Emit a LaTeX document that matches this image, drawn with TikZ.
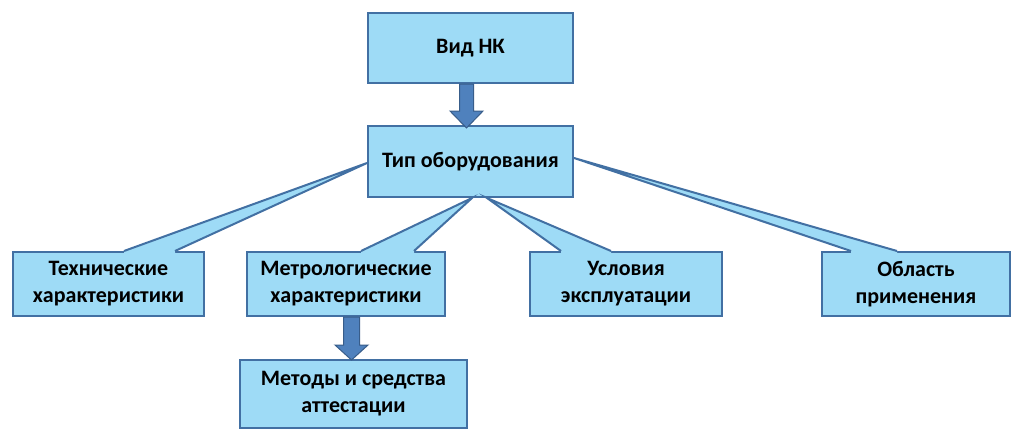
\documentclass[tikz,border=0pt]{standalone}
\usepackage{fontspec}
\setmainfont{Carlito}
\usetikzlibrary{calc}
\definecolor{boxfill}{RGB}{158,219,246}
\definecolor{boxline}{RGB}{66,112,163}
\definecolor{arrfill}{RGB}{79,129,189}
\definecolor{arrline}{RGB}{56,93,138}
\tikzset{
  box/.style={draw=boxline, fill=boxfill, line width=2pt, align=center,
    font=\fontsize{22}{27}\selectfont\bfseries, inner sep=0pt},
  wedgefill/.style={fill=boxfill},
  wedgeline/.style={draw=boxline, line width=2pt, line join=miter},
  blockarrow/.style={fill=arrfill, draw=arrline, line width=1pt, line join=miter}
}
\begin{document}
\begin{tikzpicture}[x=1pt,y=-1pt]
\useasboundingbox (0,0) rectangle (1024,442);
\fill[white] (0,0) rectangle (1024,442);

\node[box, minimum width=205pt, minimum height=70pt] (vid) at (470.5,48) {Вид НК};
\node[box, minimum width=205pt, minimum height=71pt] (tip) at (470.5,161.5) {Тип оборудования};
\node[box, minimum width=191pt, minimum height=64pt] (tech) at (108.5,284) {Технические\\характеристики};
\node[box, minimum width=198pt, minimum height=64pt] (metro) at (346,284) {Метрологические\\характеристики};
\node[box, minimum width=192pt, minimum height=64pt] (usl) at (626,284) {Условия\\эксплуатации};
\node[box, minimum width=188pt, minimum height=64pt] (obl) at (916,284) {Область\\применения};
\node[box, minimum width=227pt, minimum height=68pt] (met) at (353.5,394) {Методы и средства\\аттестации};

% callout wedges
\coordinate (t1) at ($(tech.north west)+(112,0)$);
\coordinate (t2) at ($(tech.north west)+(163,0)$);
\coordinate (tt) at ($(tip.west)+(0,1.5)$);
\coordinate (m1) at ($(metro.north west)+(115,0)$);
\coordinate (m2) at ($(metro.north west)+(168,0)$);
\coordinate (mt) at ($(tip.south)+(1.5,0)$);
\coordinate (u1) at ($(usl.north west)+(32,0)$);
\coordinate (u2) at ($(usl.north west)+(82,0)$);
\coordinate (ut) at ($(tip.south)+(16.5,0)$);
\coordinate (o1) at ($(obl.north west)+(30,0)$);
\coordinate (o2) at ($(obl.north west)+(76,0)$);
\coordinate (ot) at ($(tip.east)+(0,-3.5)$);

\foreach \a/\t/\b in {t1/tt/t2, m1/mt/m2, u1/ut/u2, o1/ot/o2}{
  \fill[wedgefill] ($(\a)+(0,2)$) -- (\a) -- (\t) -- (\b) -- ($(\b)+(0,2)$) -- cycle;
  \draw[wedgeline] (\a) -- (\t) -- (\b);
}

% block arrows
\coordinate (a1) at ($(vid.south)+(-4,0)$);
\draw[blockarrow] (a1) ++(-7,0) -- ++(0,27) -- ++(-9.5,0) -- ++(16.5,17) -- ++(16.5,-17) -- ++(-9.5,0) -- ++(0,-27) -- cycle;
\coordinate (a2) at ($(metro.south)+(5.5,0)$);
\draw[blockarrow] (a2) ++(-8,0) -- ++(0,28) -- ++(-8.5,0) -- ++(16.5,15) -- ++(16.5,-15) -- ++(-8.5,0) -- ++(0,-28) -- cycle;
\end{tikzpicture}
\end{document}
